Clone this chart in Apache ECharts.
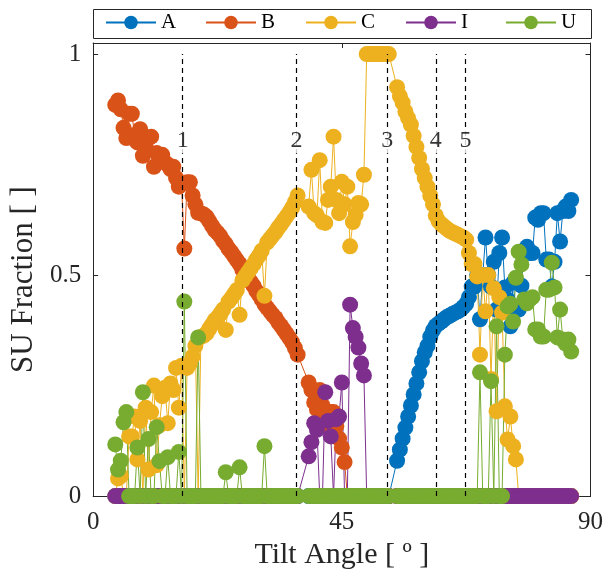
<!DOCTYPE html>
<html>
<head>
<meta charset="utf-8">
<script src="https://cdn.jsdelivr.net/npm/echarts@6/dist/echarts.min.js"></script>
<style>
  html, body { margin: 0; background: #fff; }
  #chart { width: 606px; height: 575px; }
</style>
</head>
<body>
<div id="chart"></div>
<script>
// tilt angles in degrees, one sample every half degree (null = no sample)
const angles = [
  4, 4.5, 5, 5.5, 6, 6.5, 7, 7.5, 8, 8.5,
  9, 9.5, 10, 10.5, 11, 11.5, 12, 12.5, 13, 13.5,
  14, 14.5, 15, 15.5, 16, 16.5, 17, 17.5, 18, 18.5,
  19, 19.5, 20, 20.5, 21, 21.5, 22, 22.5, 23, 23.5,
  24, 24.5, 25, 25.5, 26, 26.5, 27, 27.5, 28, 28.5,
  29, 29.5, 30, 30.5, 31, 31.5, 32, 32.5, 33, 33.5,
  34, 34.5, 35, 35.5, 36, 36.5, 37, 37.5, 38, 38.5,
  39, 39.5, 40, 40.5, 41, 41.5, 42, 42.5, 43, 43.5,
  44, 44.5, 45, 45.5, 46, 46.5, 47, 47.5, 48, 48.5,
  49, 49.5, 50, 50.5, 51, 51.5, 52, 52.5, 53, 53.5,
  54, 54.5, 55, 55.5, 56, 56.5, 57, 57.5, 58, 58.5,
  59, 59.5, 60, 60.5, 61, 61.5, 62, 62.5, 63, 63.5,
  64, 64.5, 65, 65.5, 66, 66.5, 67, 67.5, 68, 68.5,
  69, 69.5, 70, 70.5, 71, 71.5, 72, 72.5, 73, 73.5,
  74, 74.5, 75, 75.5, 76, 76.5, 77, 77.5, 78, 78.5,
  79, 79.5, 80, 80.5, 81, 81.5, 82, 82.5, 83, 83.5,
  84, 84.5, 85, 85.5, 86, 86.5
];

const fracA = [
  0, 0, 0, 0, 0, 0, 0, 0, 0, 0,
  0, 0, 0, 0, 0, 0, 0, 0, 0, 0,
  0, 0, 0, 0, 0, 0, 0, 0, 0, 0,
  0, 0, 0, 0, 0, 0, 0, 0, 0, 0,
  0, 0, 0, 0, 0, 0, 0, 0, 0, 0,
  0, 0, 0, 0, 0, 0, 0, 0, 0, 0,
  0, 0, 0, 0, 0, 0, 0, null, null, null,
  0, 0, 0, 0, 0, 0, 0, 0, 0, 0,
  0, 0, 0, 0, 0, 0, 0, 0, 0, 0,
  0, 0, 0, 0, 0, 0, 0, 0, 0, 0,
  null, null, 0.08, 0.105, 0.13, 0.155, 0.18, 0.205, 0.23, 0.255,
  0.28, 0.305, 0.325, 0.34, 0.36, 0.375, 0.385, 0.39, 0.395, 0.40,
  0.405, 0.408, 0.412, 0.415, 0.418, 0.422, 0.428, 0.435, 0.45, 0.474,
  0.474, 0.50, 0.40, 0.50, 0.585, 0.50, 0.474, 0.53, 0.422, 0.55,
  0.585, 0.472, 0.445, 0.384, 0.483, 0.42, 0.422, 0.476, 0.555, 0.564,
  0.55, 0.55, 0.63, 0.625, 0.64, 0.64, 0.535, 0.535, 0.474, 0.53,
  0.64, 0.576, 0.645, 0.655, 0.645, 0.67
];

const fracB = [
  0.885, 0.895, 0.875, 0.833, 0.81, 0.865, 0.865, 0.817, 0.80, 0.83,
  0.77, 0.79, 0.81, 0.813, 0.745, 0.776, 0.76, 0.772, 0.755, 0.75,
  0.74, 0.745, 0.72, 0.70, 0.705, 0.56, 0.71, 0.71, 0.68, 0.66,
  0.641, 0.64, 0.637, 0.632, 0.622, 0.612, 0.602, 0.596, 0.588, 0.578,
  0.57, 0.56, 0.552, 0.543, 0.534, 0.525, 0.512, 0.503, 0.494, 0.485,
  0.476, 0.465, 0.456, 0.445, 0.434, 0.426, 0.418, 0.41, 0.403, 0.393,
  0.385, 0.376, 0.367, 0.358, 0.348, 0.335, 0.32, null, null, null,
  0.257, 0.24, 0.212, 0.196, 0.24, 0.205, 0.18, 0.16, 0.19, 0.19,
  0.158, 0.13, 0.11, 0.077, 0, 0, 0, 0, 0, 0,
  0, 0, 0, 0, 0, 0, 0, 0, 0, 0,
  null, null, 0, 0, 0, 0, 0, 0, 0, 0,
  0, 0, 0, 0, 0, 0, 0, 0, 0, 0,
  0, 0, 0, 0, 0, 0, 0, 0, 0, 0,
  0, 0, 0, 0, 0, 0, 0, 0, 0, 0,
  0, 0, 0, 0, 0, 0, 0, 0, 0, 0,
  0, 0, 0, 0, 0, 0, 0, 0, 0, 0,
  0, 0, 0, 0, 0, 0
];

const fracC = [
  0, 0.04, 0.045, 0, 0, 0.135, 0.135, 0.18, 0.083, 0.17,
  0, 0.2, 0.06, 0.19, 0.25, 0.07, 0.16, 0.226, 0.245, 0.165,
  0.255, 0.24, 0.29, 0.2, 0.295, 0, 0.29, 0.30, 0.316, 0.34,
  0, 0.36, 0.363, 0.368, 0.378, 0.388, 0.398, 0.404, 0.412, 0.422,
  0.376, 0.44, 0.448, 0.457, 0.466, 0.41, 0.488, 0.497, 0.506, 0.515,
  0.524, 0.535, 0.544, 0.555, 0.453, 0.574, 0.582, 0.59, 0.597, 0.607,
  0.615, 0.624, 0.633, 0.642, 0.652, 0.665, 0.68, null, null, null,
  0.655, 0.738, 0.64, 0.635, 0.76, 0.62, 0.618, 0.67, 0.70, 0.813,
  0.67, 0.64, 0.711, 0.66, 0.70, 0.565, 0.62, 0.636, 0.663, 0.66,
  0.727, 1, 1, 1, 1, 1, 1, 1, 1, 1,
  null, null, 0.925, 0.905, 0.89, 0.87, 0.855, 0.84, 0.815, 0.79,
  0.765, 0.74, 0.72, 0.70, 0.68, 0.66, 0.635, 0.622, 0.615, 0.61,
  0.605, 0.60, 0.597, 0.594, 0.591, 0.588, 0.585, 0.58, 0.55, 0.525,
  0.525, 0.497, 0.32, 0.50, 0.418, 0.50, 0.265, 0.47, 0.192, 0.45,
  0.415, 0.203, 0.128, 0.18, 0.113, 0.083, 0, 0, 0, 0,
  0, 0, 0, 0, 0, 0, 0, 0, 0, 0,
  0, 0, 0, 0, 0, 0
];

const fracI = [
  0, 0, 0, 0, 0, 0, 0, 0, 0, 0,
  0, 0, 0, 0, 0, 0, 0, 0, 0, 0,
  0, 0, 0, 0, 0, 0, 0, 0, 0, 0,
  0, 0, 0, 0, 0, 0, 0, 0, 0, 0,
  0, 0, 0, 0, 0, 0, 0, 0, 0, 0,
  0, 0, 0, 0, 0, 0, 0, 0, 0, 0,
  0, 0, 0, 0, 0, 0, 0, null, null, null,
  0.09, 0.122, 0.165, 0.15, 0, 0, 0.235, 0.17, 0.135, 0,
  0.174, 0.18, 0.257, 0, 0, 0.433, 0.38, 0.36, 0.336, 0.30,
  0.273, 0, 0, 0, 0, 0, 0, 0, 0, 0,
  null, null, 0, 0, 0, 0, 0, 0, 0, 0,
  0, 0, 0, 0, 0, 0, 0, 0, 0, 0,
  0, 0, 0, 0, 0, 0, 0, 0, 0, 0,
  0, 0, 0, 0, 0, 0, 0, 0, 0, 0,
  0, 0, 0, 0, 0, 0, 0, 0, 0, 0,
  0, 0, 0, 0, 0, 0, 0, 0, 0, 0,
  0, 0, 0, 0, 0, 0
];

const fracU = [
  0.117, 0.06, 0.08, 0.167, 0.19, 0, 0, 0, 0.11, 0,
  0.235, 0, 0.129, 0, 0, 0.156, 0.079, 0, 0, 0.088,
  0, 0, 0, 0.10, 0, 0.44, 0, 0, 0, 0,
  0.359, 0, 0, 0, 0, 0, 0, 0, 0, 0,
  0.054, 0, 0, 0, 0, 0.065, 0, 0, 0, 0,
  0, 0, 0, 0, 0.113, 0, 0, 0, 0, 0,
  0, 0, 0, 0, 0, 0, 0, null, null, null,
  0, 0, 0, 0, 0, 0, 0, 0, 0, 0,
  0, 0, 0, 0, 0, 0, 0, 0, 0, 0,
  0, 0, 0, 0, 0, 0, 0, 0, 0, 0,
  null, null, 0, 0, 0, 0, 0, 0, 0, 0,
  0, 0, 0, 0, 0, 0, 0, 0, 0, 0,
  0, 0, 0, 0, 0, 0, 0, 0, 0, 0,
  0, 0, 0.28, 0, 0, 0, 0.26, 0, 0.384, 0,
  0, 0.32, 0.429, 0.435, 0.395, 0.494, 0.553, 0.524, 0.445, 0.436,
  0.445, 0.45, 0.377, 0.377, 0.361, 0.361, 0.467, 0.467, 0.528, 0.472,
  0.359, 0.422, 0.354, 0.345, 0.354, 0.327
];

const seriesNames = ['A', 'B', 'C', 'I', 'U'];
const seriesColors = ['#0072BD', '#D95319', '#EDB120', '#7E2F8E', '#77AC30'];

// dashed guide lines and their numbers
const guideAngles = [16.2, 36.8, 53.2, 62.0, 67.4];
const guideLabels = ['1', '2', '3', '4', '5'];
const guideLabelY = 0.805;

const FONT = '"Liberation Serif", "Times New Roman", serif';
const INK = '#262626';

const chart = echarts.init(document.getElementById('chart'));

function lineSeries(name, values, color) {
  return {
    name,
    type: 'line',
    data: angles.map((a, i) => [a, values[i] === null ? '-' : values[i]]),
    connectNulls: true,
    symbol: 'circle',
    symbolSize: 16,
    showSymbol: true,
    itemStyle: { color },
    lineStyle: { color, width: 1 },
    emphasis: { disabled: true },
  };
}

function boxAxis(extra) {
  return Object.assign({
    type: 'value',
    axisLine: { show: true, onZero: false, lineStyle: { color: INK, width: 1 } },
    axisTick: { show: true, inside: true, length: 5, lineStyle: { color: INK } },
    splitLine: { show: false },
  }, extra);
}

const values = [fracA, fracB, fracC, fracI, fracU];

// one legend per entry so the entries sit on a fixed 100px pitch like the original
const legends = seriesNames.map((n, i) => ({
  data: [n],
  left: 105 + 100 * i,
  top: 12,
  padding: 0,
  itemWidth: 50,
  itemHeight: 17,
  textStyle: { fontFamily: FONT, fontSize: 21, color: '#000' },
}));

chart.setOption({
  animation: false,
  backgroundColor: '#fff',
  grid: { left: 93, right: 14, top: 43, bottom: 77 },
  legend: legends,
  graphic: [{
    type: 'rect',
    silent: true,
    shape: { x: 93.5, y: 9.5, width: 498, height: 29 },
    style: { fill: 'none', stroke: INK, lineWidth: 1 },
  }],
  xAxis: [
    boxAxis({
      min: 0, max: 90, interval: 45, position: 'bottom',
      axisLabel: { color: INK, fontFamily: FONT, fontSize: 25, margin: 14 },
      name: 'Tilt Angle [ º ]',
      nameLocation: 'middle',
      nameGap: 40,
      nameTextStyle: { color: INK, fontFamily: FONT, fontSize: 30 },
    }),
    boxAxis({
      min: 0, max: 90, interval: 45, position: 'top',
      axisLabel: { show: false },
    }),
  ],
  yAxis: [
    boxAxis({
      min: 0, max: 1.025, interval: 0.5, position: 'left',
      axisLabel: { color: INK, fontFamily: FONT, fontSize: 25, margin: 12, showMaxLabel: false },
      name: 'SU Fraction [ ]',
      nameLocation: 'middle',
      nameGap: 49,
      nameTextStyle: { color: INK, fontFamily: FONT, fontSize: 31, padding: [0, 20, 0, 0] },
    }),
    boxAxis({
      min: 0, max: 1.025, interval: 0.5, position: 'right',
      axisLabel: { show: false },
    }),
  ],
  series: [
    {
      name: 'guides',
      type: 'line',
      data: [],
      silent: true,
      markLine: {
        silent: true,
        symbol: ['none', 'none'],
        label: { show: false },
        lineStyle: { color: '#000', type: [5, 4], width: 1.2 },
        data: guideAngles.map(a => [{ coord: [a, 0] }, { coord: [a, 1] }]),
      },
    },
    ...seriesNames.map((n, i) => lineSeries(n, values[i], seriesColors[i])),
    {
      name: 'guideText',
      type: 'scatter',
      silent: true,
      symbolSize: 0,
      data: guideAngles.map((a, i) => [a, guideLabelY, guideLabels[i]]),
      label: {
        show: true,
        position: 'inside',
        formatter: p => p.value[2],
        fontFamily: FONT,
        fontSize: 24,
        color: '#000',
        backgroundColor: '#fff',
        padding: [1, 1],
      },
      z: 5,
    },
  ],
});
</script>
</body>
</html>
